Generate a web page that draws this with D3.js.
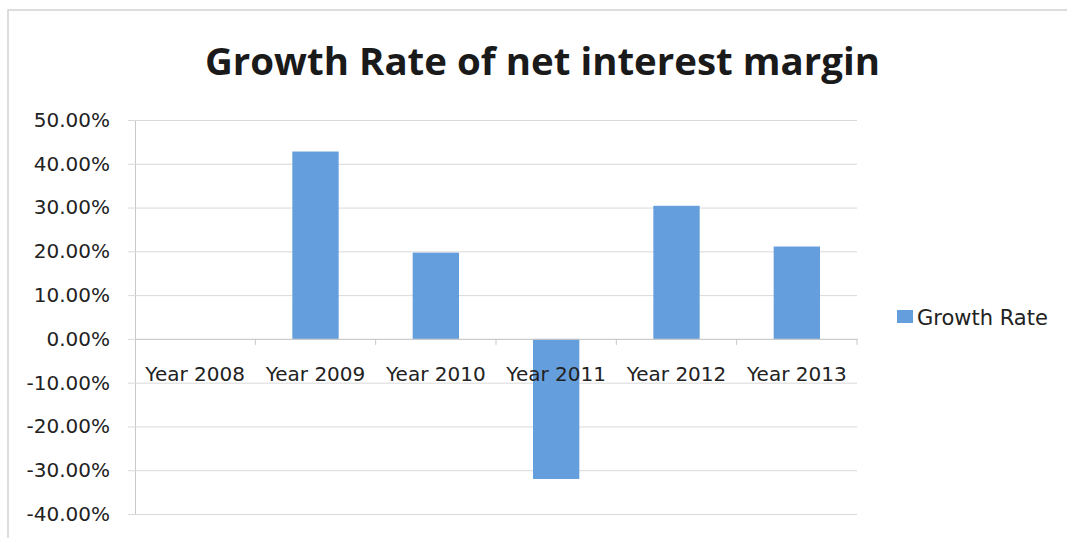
<!DOCTYPE html>
<html>
<head>
<meta charset="utf-8">
<script src="https://cdn.jsdelivr.net/npm/d3@7"></script>
<style>
  html, body { margin: 0; padding: 0; background: #ffffff; }
  svg { display: block; }
</style>
</head>
<body>
<svg id="chart" width="1067" height="538"></svg>
<script>
// Growth rate of net interest margin, by year
const years = ["Year 2008", "Year 2009", "Year 2010", "Year 2011", "Year 2012", "Year 2013"];
const growthRate = [0.0, 0.428, 0.197, -0.320, 0.304, 0.211];
const yTicks = [0.5, 0.4, 0.3, 0.2, 0.1, 0.0, -0.1, -0.2, -0.3, -0.4];
const seriesName = "Growth Rate";
const titleText = "Growth Rate of net interest margin";

const svg = d3.select("#chart");
const W = 1067, H = 538;
const plot = { left: 135, right: 857, top: 120, bottom: 514 };
const barColor = "#659edc";
const gridColor = "#d9d9d9";
const labelFont = "'DejaVu Sans', sans-serif";

// percentage labels with a plain hyphen for negatives
const pct = d3.formatLocale({ decimal: ".", thousands: ",", grouping: [3], currency: ["", ""], minus: "-" }).format(".2%");

// chart frame
svg.append("path")
  .attr("d", `M8,${H} L8,10 L${W},10`)
  .attr("fill", "none")
  .attr("stroke", "#d2d2d2")
  .attr("stroke-width", 1.5);

// title
svg.append("text")
  .attr("x", 205)
  .attr("y", 75)
  .attr("textLength", 675)
  .attr("lengthAdjust", "spacingAndGlyphs")
  .attr("font-family", "'Open Sans', sans-serif")
  .attr("font-weight", 700)
  .attr("font-size", 37)
  .attr("fill", "#1a1a1a")
  .text(titleText);

const x = d3.scaleBand().domain(years).range([plot.left, plot.right]).padding(0);
const y = d3.scaleLinear().domain([-0.4, 0.5]).range([plot.bottom, plot.top]);

// horizontal gridlines with short left ticks
const yAxis = d3.axisLeft(y)
  .tickValues(yTicks)
  .tickSize(-(plot.right - plot.left))
  .tickSizeOuter(0)
  .tickPadding(25)
  .tickFormat(pct);

const gy = svg.append("g")
  .attr("transform", `translate(${plot.left},0)`)
  .call(yAxis);
gy.select(".domain").attr("stroke", "#c8c8c8");
gy.selectAll(".tick line")
  .attr("x1", -7)
  .attr("stroke", gridColor);
gy.selectAll(".tick text")
  .attr("font-family", labelFont)
  .attr("font-size", 20)
  .attr("fill", "#222");

// bars
const barW = x.bandwidth() * 0.385;
svg.append("g")
  .selectAll("rect")
  .data(years.map((yr, i) => ({ yr, v: growthRate[i] })))
  .join("rect")
  .attr("x", d => x(d.yr) + (x.bandwidth() - barW) / 2)
  .attr("y", d => y(Math.max(0, d.v)))
  .attr("width", barW)
  .attr("height", d => Math.abs(y(d.v) - y(0)))
  .attr("fill", barColor);

// category axis along zero
const xAxis = d3.axisBottom(x).tickSize(0).tickPadding(0).tickFormat("");
const gx = svg.append("g")
  .attr("transform", `translate(0,${y(0)})`)
  .call(xAxis);
gx.select(".domain").attr("stroke", "#c8c8c8");
// boundary ticks between categories
gx.selectAll("line.sep")
  .data(years.slice(1).concat(["__end"]))
  .join("line")
  .attr("class", "sep")
  .attr("x1", d => d === "__end" ? plot.right : x(d))
  .attr("x2", d => d === "__end" ? plot.right : x(d))
  .attr("y1", 0)
  .attr("y2", 6)
  .attr("stroke", "#c8c8c8");

// category labels
svg.append("g")
  .selectAll("text")
  .data(years)
  .join("text")
  .attr("x", d => x(d) + x.bandwidth() / 2)
  .attr("y", 381)
  .attr("text-anchor", "middle")
  .attr("font-family", labelFont)
  .attr("font-size", 20)
  .attr("fill", "#222")
  .text(d => d);

// legend
const lg = svg.append("g").attr("transform", "translate(897,310)");
lg.append("rect").attr("width", 16).attr("height", 13).attr("fill", barColor);
lg.append("text")
  .attr("x", 20)
  .attr("y", 15)
  .attr("font-family", labelFont)
  .attr("font-size", 21)
  .attr("fill", "#222")
  .text(seriesName);
</script>
</body>
</html>
